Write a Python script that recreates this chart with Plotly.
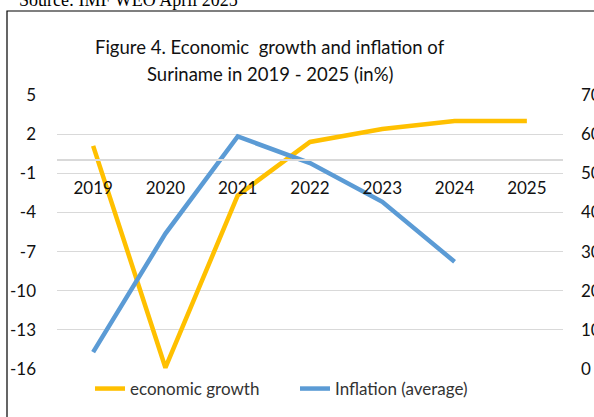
import plotly.graph_objects as go

years = ["2019", "2020", "2021", "2022", "2023", "2024", "2025"]
growth = [1.1, -15.9, -2.7, 1.4, 2.4, 3.0, 3.0]
inflation_years = ["2019", "2020", "2021", "2022", "2023", "2024"]
inflation = [4.3, 34.6, 59.4, 52.6, 42.7, 27.4]
left_ticks = [5, 2, -1, -4, -7, -10, -13, -16]
left_labels = ["5", "2", "-1", "-4", "-7", "-10", "-13", "-16"]
right_ticks = [0, 10, 20, 30, 40, 50, 60, 70]
right_labels = ["0", "10", "20", "30", "40", "50", "60", "70"]

W, H = 594, 417
L, R, T, B = 57, 563, 95, 369

def px_x(px):
    return (px - L) / (R - L)

def px_y(py):
    return (B - py) / (B - T)

FONT = "Lato, Carlito, Calibri, 'Open Sans', sans-serif"
GRID = "#d9d9d9"

fig = go.Figure()
fig.add_trace(go.Scatter(x=years, y=growth, mode="lines", name="economic growth",
                         line=dict(color="#FFC000", width=4.5), yaxis="y"))
fig.add_trace(go.Scatter(x=inflation_years, y=inflation, mode="lines", name="Inflation (average)",
                         line=dict(color="#5B9BD5", width=4.5), yaxis="y2"))

fig.update_layout(
    width=W, height=H,
    margin=dict(l=L, r=W - R, t=T, b=H - B, pad=0, autoexpand=False),
    paper_bgcolor="white", plot_bgcolor="white",
    font=dict(family=FONT, size=16, color="#222"),
    showlegend=True,
    legend=dict(orientation="h", x=px_x(90), y=px_y(371), xanchor="left", yanchor="top",
                font=dict(size=17, color="#333"), entrywidth=160, entrywidthmode="pixels",
                tracegroupgap=0, bgcolor="rgba(0,0,0,0)"),
    xaxis=dict(type="category", categoryorder="array", categoryarray=years,
               anchor="free", position=16 / 21, showline=True, linecolor=GRID, linewidth=1.5,
               showgrid=False, ticks="", tickfont=dict(size=17, color="#111"),
               range=[-0.5, 6.5], ticklabelstandoff=13),
    yaxis=dict(range=[-16, 5], tickvals=left_ticks, ticktext=left_labels,
               showgrid=True, gridcolor=GRID, gridwidth=1.2,
               zeroline=False, showline=False, ticks="", tickfont=dict(size=17, color="#111"),
               ticklabelstandoff=20),
    yaxis2=dict(range=[0, 70], tickvals=right_ticks, ticktext=right_labels,
                overlaying="y", side="right",
                showgrid=False, zeroline=False, showline=False, ticks="",
                tickfont=dict(size=17, color="#111"), ticklabelstandoff=17),
    shapes=[dict(type="rect", xref="paper", yref="paper",
                 x0=px_x(7), x1=px_x(640), y0=px_y(460), y1=px_y(11),
                 line=dict(color="#000", width=1.2), fillcolor="rgba(0,0,0,0)", layer="below")],
    annotations=[
        dict(text="Source: IMF WEO April 2025", xref="paper", yref="paper",
             x=px_x(17), y=px_y(0), xanchor="left", yanchor="middle", showarrow=False,
             font=dict(family="'Liberation Serif', 'Times New Roman', serif", size=18, color="#000")),
        dict(text="Figure 4. Economic  growth and inflation of", xref="paper", yref="paper",
             x=px_x(270), y=px_y(47), xanchor="center", yanchor="middle", showarrow=False,
             font=dict(size=18.5, color="#111")),
        dict(text="Suriname in 2019 - 2025 (in%)", xref="paper", yref="paper",
             x=px_x(270), y=px_y(74), xanchor="center", yanchor="middle", showarrow=False,
             font=dict(size=18.5, color="#111")),
    ],
)

fig.write_html("out.html", config={"displayModeBar": False},
               post_script="document.body.style.margin='0';")
